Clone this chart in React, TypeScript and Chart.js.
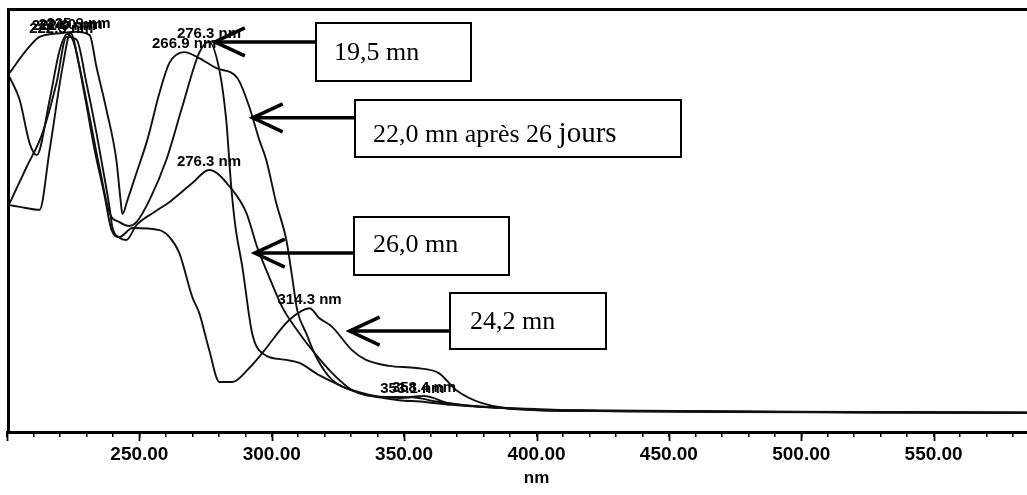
import React, { useEffect, useRef } from "react";
import { Chart, registerables } from "chart.js";
Chart.register(...registerables);

// Wavelength (nm) and absorbance (relative) for each chromatographic peak spectrum
const wl195 = [201.0, 204.8, 212.3, 216.1, 221.0, 224.0, 227.4, 231.2, 234.9, 238.7, 242.5, 246.2, 248.9, 253.8, 260.2, 266.2, 272.6, 276.3, 280.2, 282.8, 284.7, 286.2, 288.9, 292.6, 296.4, 305.5, 310.4, 317.9, 325.4, 333.0, 348.1, 356.0, 368.0, 385.0, 400.0, 430.0, 470.0, 520.0, 560.0, 600.0];
const ab195 = [0.535, 0.531, 0.524, 0.665, 0.861, 0.941, 0.861, 0.743, 0.625, 0.517, 0.495, 0.486, 0.495, 0.547, 0.642, 0.767, 0.894, 0.920, 0.854, 0.736, 0.578, 0.488, 0.389, 0.233, 0.186, 0.170, 0.163, 0.134, 0.111, 0.092, 0.075, 0.072, 0.064, 0.057, 0.053, 0.050, 0.048, 0.047, 0.046, 0.045];

const wl220 = [201.0, 207.4, 212.3, 221.0, 225.9, 231.2, 233.8, 237.6, 241.3, 242.9, 243.6, 245.5, 248.9, 253.0, 257.6, 261.3, 266.9, 272.6, 279.1, 287.0, 291.5, 295.3, 297.9, 301.7, 305.5, 307.7, 309.6, 313.0, 316.8, 322.8, 333.0, 348.1, 357.5, 366.9, 385.8, 400.0, 435.0, 480.0, 530.0, 600.0];
const ab220 = [0.847, 0.901, 0.932, 0.941, 0.944, 0.936, 0.861, 0.759, 0.642, 0.547, 0.514, 0.547, 0.611, 0.689, 0.800, 0.870, 0.896, 0.882, 0.858, 0.835, 0.767, 0.689, 0.642, 0.540, 0.453, 0.366, 0.288, 0.233, 0.177, 0.123, 0.094, 0.080, 0.085, 0.068, 0.057, 0.052, 0.049, 0.048, 0.046, 0.045];

const wl260 = [201.0, 207.4, 213.4, 218.7, 222.5, 226.3, 230.0, 233.8, 236.1, 238.7, 239.8, 242.5, 245.1, 248.9, 255.7, 261.3, 270.0, 276.3, 285.1, 290.4, 294.5, 299.0, 303.9, 310.4, 315.3, 322.8, 330.3, 340.5, 353.1, 362.0, 375.0, 400.0, 440.0, 490.0, 540.0, 600.0];
const ab260 = [0.540, 0.625, 0.705, 0.823, 0.932, 0.925, 0.823, 0.705, 0.625, 0.531, 0.483, 0.458, 0.453, 0.488, 0.519, 0.542, 0.587, 0.618, 0.571, 0.517, 0.436, 0.366, 0.295, 0.233, 0.193, 0.139, 0.099, 0.083, 0.082, 0.072, 0.062, 0.054, 0.050, 0.048, 0.047, 0.046];

const wl242 = [201.0, 204.8, 208.5, 211.2, 216.1, 219.9, 222.9, 225.5, 229.3, 233.1, 236.8, 239.5, 242.5, 247.4, 257.6, 261.3, 265.1, 270.0, 272.6, 276.4, 280.2, 285.1, 291.5, 296.4, 306.6, 314.3, 317.9, 322.8, 330.3, 335.6, 344.3, 354.5, 363.1, 369.6, 379.4, 398.2, 430.0, 470.0, 520.0, 600.0];
const ab242 = [0.837, 0.783, 0.682, 0.653, 0.783, 0.901, 0.939, 0.913, 0.795, 0.665, 0.559, 0.476, 0.460, 0.481, 0.476, 0.460, 0.422, 0.318, 0.281, 0.193, 0.118, 0.118, 0.151, 0.186, 0.264, 0.292, 0.269, 0.248, 0.193, 0.170, 0.156, 0.151, 0.139, 0.099, 0.068, 0.052, 0.049, 0.047, 0.046, 0.045];

// Peak labels (text, wavelength, absorbance at the peak)
const peakTexts = ["222.9 nm", "222.5 nm", "224.0 nm", "225.9 nm", "276.3 nm", "266.9 nm", "276.3 nm", "314.3 nm", "353.1 nm", "358.4 nm"];
const peakNm = [221.5, 220.5, 224.0, 227.0, 276.3, 266.9, 276.3, 314.3, 353.1, 357.5];
const peakAb = [0.939, 0.932, 0.941, 0.944, 0.920, 0.896, 0.618, 0.292, 0.082, 0.085];

// Callout texts and the point each arrow designates (wavelength, absorbance)
const calloutTexts = ["19,5 mn", "22,0 mn après 26 jours", "26,0 mn", "24,2 mn"];
const calloutNm = [278.5, 292.8, 293.6, 329.4];
const calloutAb = [0.920, 0.741, 0.422, 0.238];

// X axis
const xMin = 200;
const xMax = 600;
const xTitle = "nm";

// Callout box layout (pixels)
const boxLayout = [
  { x: 316, y: 23, w: 155, h: 58, tx: 334, ty: 60 },
  { x: 355, y: 100, w: 326, h: 57, tx: 373, ty: 142 },
  { x: 354, y: 217, w: 155, h: 58, tx: 373, ty: 252 },
  { x: 450, y: 293, w: 156, h: 56, tx: 470, ty: 329 },
];

const CANVAS_W = 1110;
const CANVAS_H = 495;
const AREA_LEFT = 7;
const AREA_RIGHT = 1066;
const FONT_SANS = "'Liberation Sans Narrow', 'Liberation Sans', Arial, sans-serif";
const FONT_SERIF = "'Liberation Serif', 'Times New Roman', serif";

const annotPlugin = {
  id: "annot",
  afterDraw(chart: any) {
    const { ctx, chartArea } = chart;
    const xs = chart.scales.x;
    const ys = chart.scales.y;
    ctx.save();
    // frame: top and left
    ctx.strokeStyle = "#000";
    ctx.lineWidth = 3;
    ctx.beginPath();
    ctx.moveTo(chartArea.left + 1.5, chartArea.bottom);
    ctx.lineTo(chartArea.left + 1.5, chartArea.top + 1.5);
    ctx.lineTo(chartArea.right, chartArea.top + 1.5);
    ctx.stroke();

    // longer major ticks
    ctx.lineWidth = 1.8;
    for (let v = xMin; v <= xMax; v += 50) {
      const px = Math.round(xs.getPixelForValue(v)) + 0.5;
      ctx.beginPath();
      ctx.moveTo(px, chartArea.bottom);
      ctx.lineTo(px, chartArea.bottom + 9);
      ctx.stroke();
    }

    // peak labels
    ctx.fillStyle = "#000";
    ctx.font = "bold 15px " + FONT_SANS;
    ctx.textAlign = "center";
    ctx.textBaseline = "middle";
    for (let i = 0; i < peakTexts.length; i++) {
      const px = xs.getPixelForValue(peakNm[i]);
      const py = ys.getPixelForValue(peakAb[i]);
      ctx.fillText(peakTexts[i], px, py - 8);
    }

    // callouts
    for (let i = 0; i < calloutTexts.length; i++) {
      const b = boxLayout[i];
      const tipX = xs.getPixelForValue(calloutNm[i]);
      const tipY = ys.getPixelForValue(calloutAb[i]);
      ctx.fillStyle = "#fff";
      ctx.fillRect(b.x, b.y, b.w, b.h);
      ctx.strokeStyle = "#000";
      ctx.lineWidth = 2;
      ctx.strokeRect(b.x, b.y, b.w, b.h);
      ctx.lineWidth = 3.5;
      ctx.lineCap = "butt";
      ctx.beginPath();
      ctx.moveTo(b.x, tipY);
      ctx.lineTo(tipX, tipY);
      ctx.stroke();
      ctx.beginPath();
      ctx.moveTo(tipX + 30, tipY - 14);
      ctx.lineTo(tipX, tipY);
      ctx.lineTo(tipX + 30, tipY + 14);
      ctx.stroke();
      ctx.fillStyle = "#000";
      ctx.textAlign = "left";
      ctx.textBaseline = "alphabetic";
      const t = calloutTexts[i];
      const idx = t.indexOf("jours");
      if (idx >= 0) {
        const head = t.slice(0, idx);
        ctx.font = "26px " + FONT_SERIF;
        ctx.fillText(head, b.tx, b.ty);
        const w = ctx.measureText(head).width;
        ctx.font = "29px " + FONT_SERIF;
        ctx.fillText("jours", b.tx + w, b.ty);
      } else {
        ctx.font = "26px " + FONT_SERIF;
        ctx.fillText(t, b.tx, b.ty);
      }
    }
    ctx.restore();
  },
};

function makeSeries(wl: number[], ab: number[]) {
  return wl.map((x, i) => ({ x, y: ab[i] }));
}

export default function App() {
  const ref = useRef<HTMLCanvasElement | null>(null);
  useEffect(() => {
    if (!ref.current) return;
    const common = {
      borderColor: "#111",
      borderWidth: 1.9,
      pointRadius: 0,
      fill: false,
      cubicInterpolationMode: "monotone" as const,
    };
    const chart = new Chart(ref.current, {
      type: "line",
      data: {
        datasets: [
          { label: "19,5 mn", data: makeSeries(wl195, ab195), ...common },
          { label: "22,0 mn après 26 jours", data: makeSeries(wl220, ab220), ...common },
          { label: "26,0 mn", data: makeSeries(wl260, ab260), ...common },
          { label: "24,2 mn", data: makeSeries(wl242, ab242), ...common },
        ],
      },
      options: {
        responsive: false,
        animation: false,
        devicePixelRatio: 1,
        layout: { padding: { left: AREA_LEFT, right: CANVAS_W - AREA_RIGHT, top: 8, bottom: 0 } },
        plugins: { legend: { display: false }, tooltip: { enabled: false } },
        scales: {
          x: {
            type: "linear",
            min: xMin,
            max: xMax,
            afterFit: (scale: any) => {
              scale.height = 63;
            },
            border: { display: true, color: "#000", width: 3 },
            grid: { display: true, drawOnChartArea: false, drawTicks: true, tickLength: 5, color: "#000", lineWidth: 1.5 },
            ticks: {
              stepSize: 10,
              autoSkip: false,
              maxRotation: 0,
              padding: 6,
              color: "#000",
              font: { family: FONT_SANS, size: 19, weight: "bold" },
              callback: (v: any) => {
                const n = Number(v);
                return n % 50 === 0 && n > xMin ? n.toFixed(2) : "";
              },
            },
            title: {
              display: true,
              text: xTitle,
              color: "#000",
              padding: { top: 0, bottom: 6 },
              font: { family: FONT_SANS, size: 17, weight: "bold" },
            },
          },
          y: { display: false, min: 0, max: 1 },
        },
      },
      plugins: [annotPlugin],
    });
    return () => chart.destroy();
  }, []);
  return (
    <div style={{ position: "fixed", left: 0, top: 0, width: 1027, height: 495, overflow: "hidden", background: "#fff" }}>
      <canvas ref={ref} width={CANVAS_W} height={CANVAS_H} style={{ width: CANVAS_W, height: CANVAS_H, display: "block" }} />
    </div>
  );
}
